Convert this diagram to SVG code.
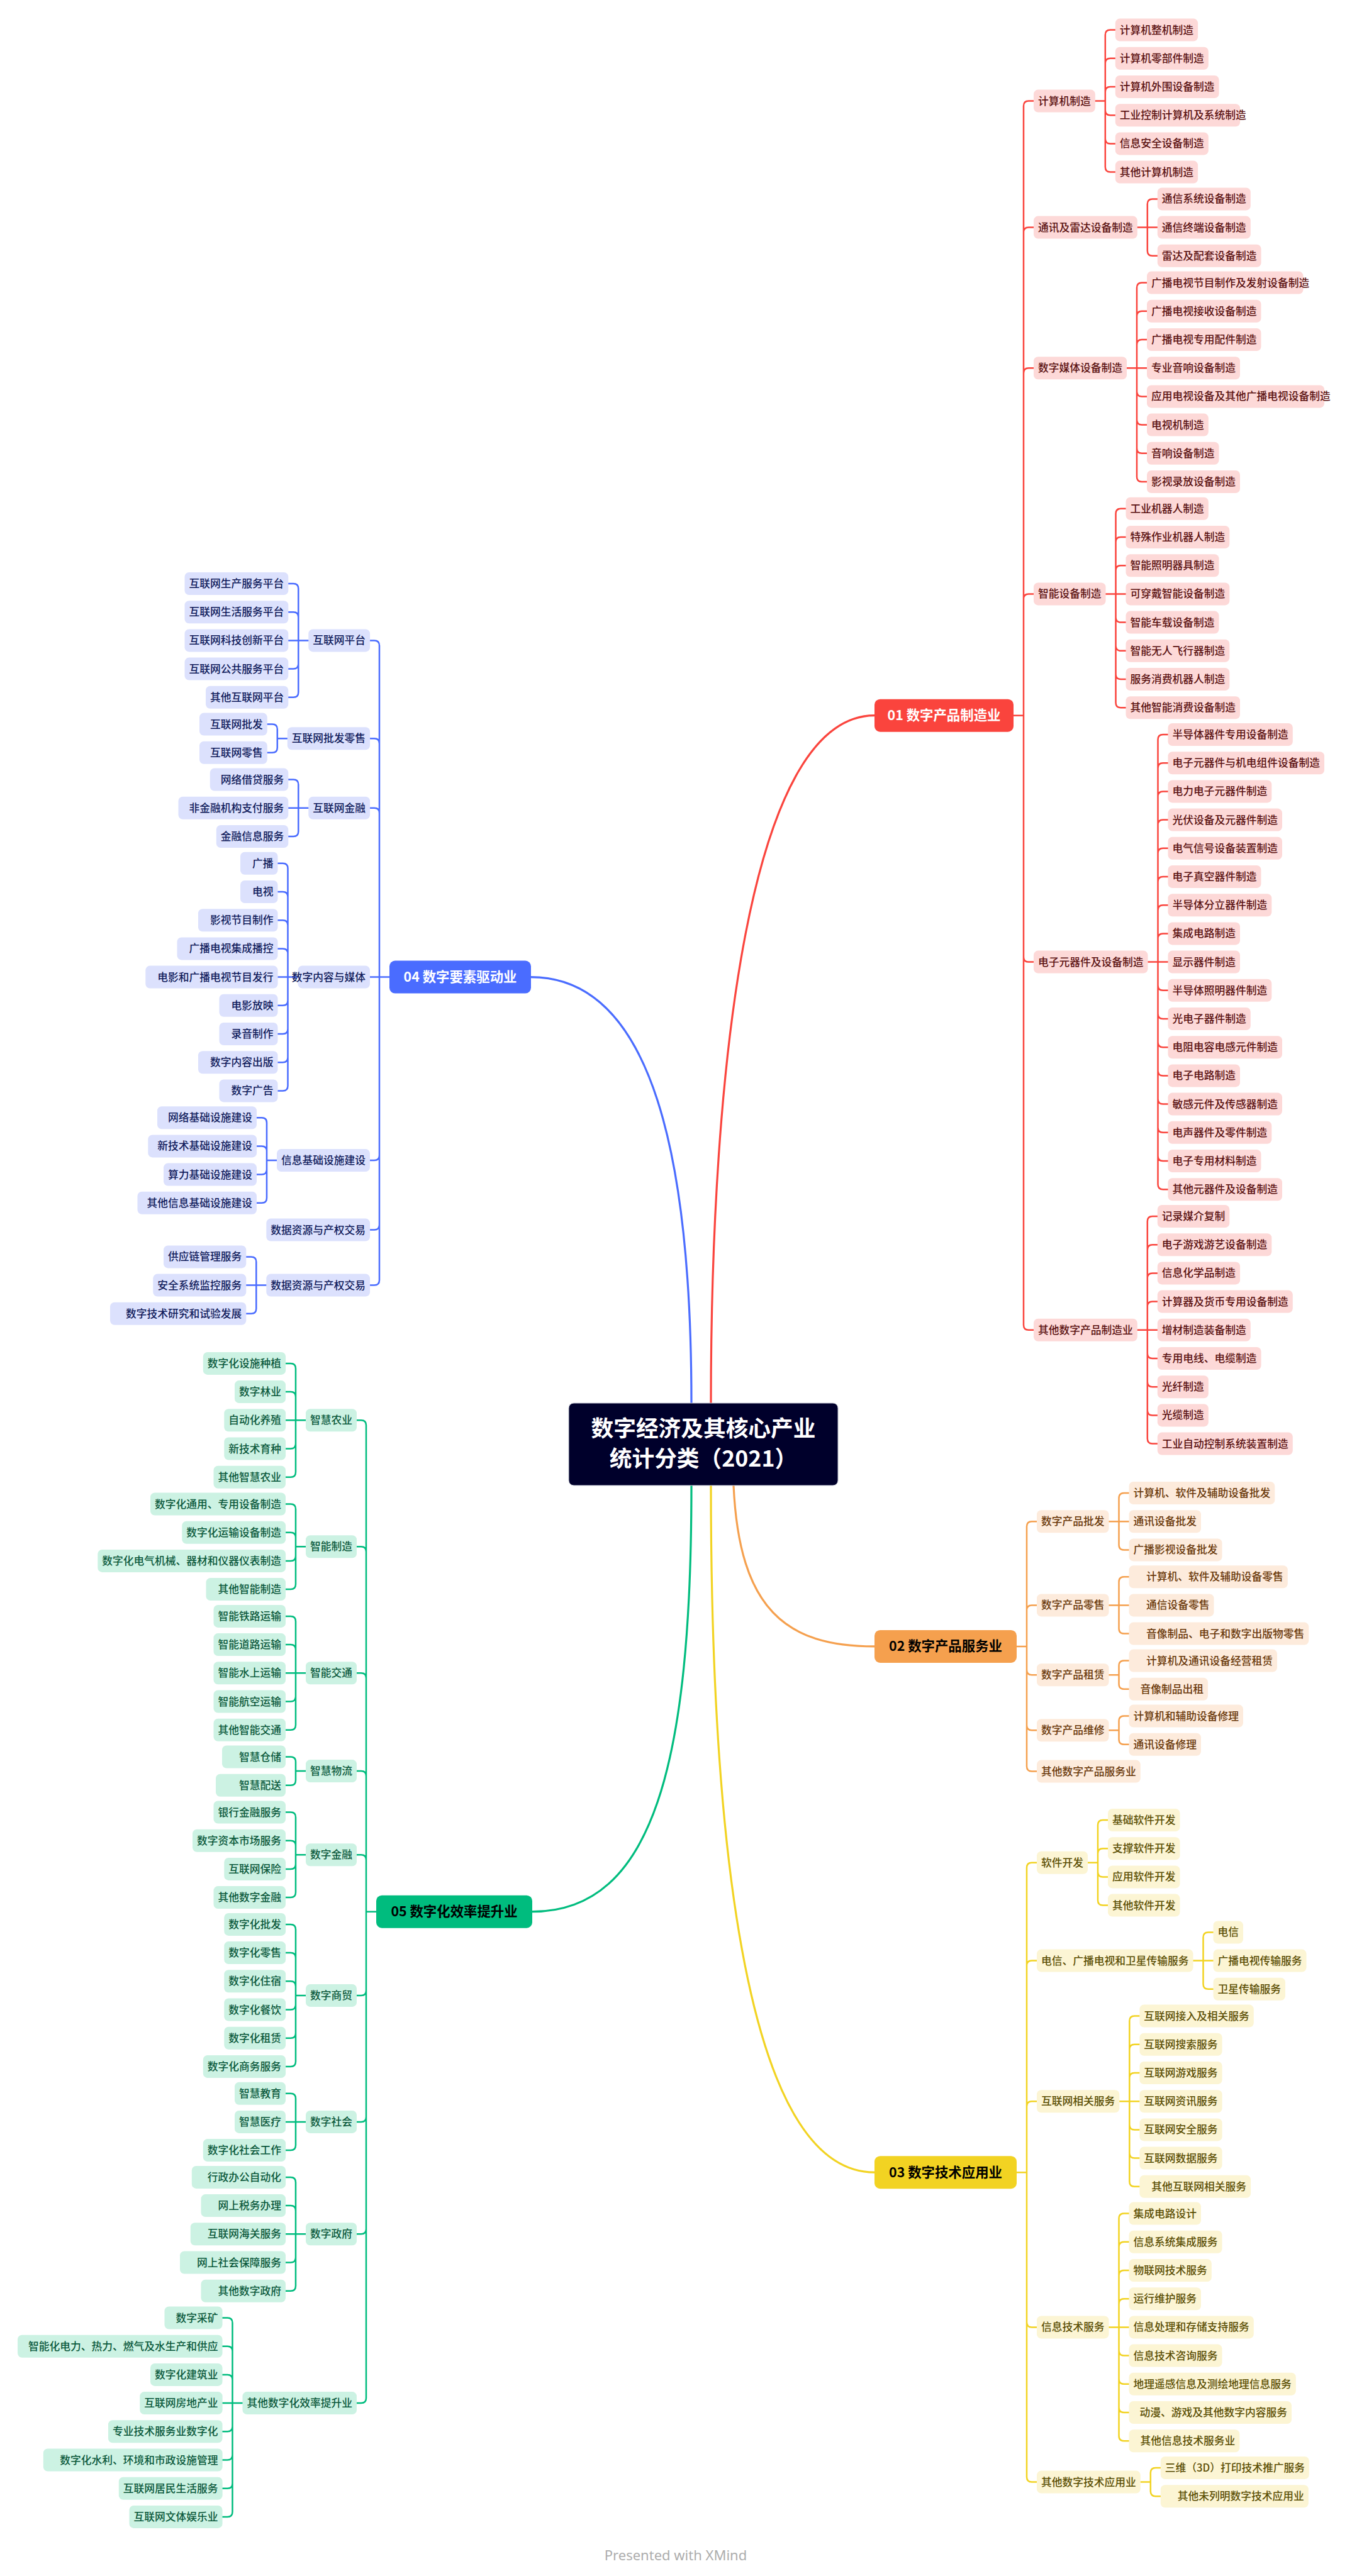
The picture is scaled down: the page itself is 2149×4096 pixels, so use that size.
<svg xmlns="http://www.w3.org/2000/svg" width="2149" height="4096" viewBox="0 0 2149 4096">
<style>
text{font-family:"Noto Sans CJK SC","Noto Sans",sans-serif;font-size:16.75px;font-weight:500}
.e{text-anchor:end}
.m text{font-size:21.4px;font-weight:700;text-anchor:middle}
.c1 rect{fill:#FDD9D8}.c1 text{fill:#5B1212}
.c2 rect{fill:#FDEBDC}.c2 text{fill:#6B3A0C}
.c3 rect{fill:#FCF5D4}.c3 text{fill:#5C5006}
.c4 rect{fill:#DCE1FD}.c4 text{fill:#111C5C}
.c5 rect{fill:#CCF2E3}.c5 text{fill:#0C5A3D}
.l{fill:none;stroke-width:2.5;stroke-linecap:round}
.k{fill:none;stroke-width:3.2;stroke-linecap:round}
.s1{stroke:#FA443D}.s2{stroke:#F5A04E}.s3{stroke:#F2D322}.s4{stroke:#4A6CFF}.s5{stroke:#00BC7E}
</style>
<rect width="2149" height="4096" fill="#ffffff"/>
<g id="connectors">
<path class="k s1" d="M1130,2231C1130,1700 1190,1137.7 1390,1137.7"/>
<path class="k s4" d="M1099,2231C1099,1850 1040,1553.6 844,1553.6"/>
<path class="k s2" d="M1166,2362C1175,2560 1250,2617.9 1390,2617.9"/>
<path class="k s3" d="M1130,2362C1130,3000 1200,3454.2 1390,3454.2"/>
<path class="k s5" d="M1099,2362C1099,2800 1040,3039.7 846,3039.7"/>
<path class="l s1" d="M1611,1137.7H1627M1627,1137.7V168.6Q1627,160.6 1635,160.6H1643M1627,1137.7V369.6Q1627,361.6 1635,361.6H1643M1627,1137.7V593.2Q1627,585.2 1635,585.2H1643M1627,1137.7V952.4Q1627,944.4 1635,944.4H1643M1627,1137.7V1521.6Q1627,1529.6 1635,1529.6H1643M1627,1137.7V2106.8Q1627,2114.8 1635,2114.8H1643"/>
<path class="l s1" d="M1740.8,160.6H1756.8M1756.8,160.6V55.6Q1756.8,47.6 1764.8,47.6H1772.8M1756.8,160.6V100.8Q1756.8,92.8 1764.8,92.8H1772.8M1756.8,160.6V146Q1756.8,138 1764.8,138H1772.8M1756.8,160.6V175.2Q1756.8,183.2 1764.8,183.2H1772.8M1756.8,160.6V220.4Q1756.8,228.4 1764.8,228.4H1772.8M1756.8,160.6V265.6Q1756.8,273.6 1764.8,273.6H1772.8"/>
<path class="l s1" d="M1807.8,361.6H1839.8M1823.8,361.6V324.4Q1823.8,316.4 1831.8,316.4H1839.8M1823.8,361.6V398.8Q1823.8,406.8 1831.8,406.8H1839.8"/>
<path class="l s1" d="M1791,585.2H1823M1807,585.2V457.6Q1807,449.6 1815,449.6H1823M1807,585.2V502.8Q1807,494.8 1815,494.8H1823M1807,585.2V548Q1807,540 1815,540H1823M1807,585.2V622.4Q1807,630.4 1815,630.4H1823M1807,585.2V667.6Q1807,675.6 1815,675.6H1823M1807,585.2V712.8Q1807,720.8 1815,720.8H1823M1807,585.2V758Q1807,766 1815,766H1823"/>
<path class="l s1" d="M1757.5,944.4H1789.5M1773.5,944.4V816.8Q1773.5,808.8 1781.5,808.8H1789.5M1773.5,944.4V862Q1773.5,854 1781.5,854H1789.5M1773.5,944.4V907.2Q1773.5,899.2 1781.5,899.2H1789.5M1773.5,944.4V981.6Q1773.5,989.6 1781.5,989.6H1789.5M1773.5,944.4V1026.8Q1773.5,1034.8 1781.5,1034.8H1789.5M1773.5,944.4V1072Q1773.5,1080 1781.5,1080H1789.5M1773.5,944.4V1117.2Q1773.5,1125.2 1781.5,1125.2H1789.5"/>
<path class="l s1" d="M1824.5,1529.6H1856.5M1840.5,1529.6V1176Q1840.5,1168 1848.5,1168H1856.5M1840.5,1529.6V1221.2Q1840.5,1213.2 1848.5,1213.2H1856.5M1840.5,1529.6V1266.4Q1840.5,1258.4 1848.5,1258.4H1856.5M1840.5,1529.6V1311.6Q1840.5,1303.6 1848.5,1303.6H1856.5M1840.5,1529.6V1356.8Q1840.5,1348.8 1848.5,1348.8H1856.5M1840.5,1529.6V1402Q1840.5,1394 1848.5,1394H1856.5M1840.5,1529.6V1447.2Q1840.5,1439.2 1848.5,1439.2H1856.5M1840.5,1529.6V1492.4Q1840.5,1484.4 1848.5,1484.4H1856.5M1840.5,1529.6V1566.8Q1840.5,1574.8 1848.5,1574.8H1856.5M1840.5,1529.6V1612Q1840.5,1620 1848.5,1620H1856.5M1840.5,1529.6V1657.2Q1840.5,1665.2 1848.5,1665.2H1856.5M1840.5,1529.6V1702.4Q1840.5,1710.4 1848.5,1710.4H1856.5M1840.5,1529.6V1747.6Q1840.5,1755.6 1848.5,1755.6H1856.5M1840.5,1529.6V1792.8Q1840.5,1800.8 1848.5,1800.8H1856.5M1840.5,1529.6V1838Q1840.5,1846 1848.5,1846H1856.5M1840.5,1529.6V1883.2Q1840.5,1891.2 1848.5,1891.2H1856.5"/>
<path class="l s1" d="M1807.8,2114.8H1839.8M1823.8,2114.8V1942Q1823.8,1934 1831.8,1934H1839.8M1823.8,2114.8V1987.2Q1823.8,1979.2 1831.8,1979.2H1839.8M1823.8,2114.8V2032.4Q1823.8,2024.4 1831.8,2024.4H1839.8M1823.8,2114.8V2077.6Q1823.8,2069.6 1831.8,2069.6H1839.8M1823.8,2114.8V2152Q1823.8,2160 1831.8,2160H1839.8M1823.8,2114.8V2197.2Q1823.8,2205.2 1831.8,2205.2H1839.8M1823.8,2114.8V2242.4Q1823.8,2250.4 1831.8,2250.4H1839.8M1823.8,2114.8V2287.6Q1823.8,2295.6 1831.8,2295.6H1839.8"/>
<path class="l s2" d="M1616,2617.9H1632M1632,2617.9V2427.2Q1632,2419.2 1640,2419.2H1648M1632,2617.9V2560.4Q1632,2552.4 1640,2552.4H1648M1632,2617.9V2655.2Q1632,2663.2 1640,2663.2H1648M1632,2617.9V2743.2Q1632,2751.2 1640,2751.2H1648M1632,2617.9V2808.6Q1632,2816.6 1640,2816.6H1648"/>
<path class="l s2" d="M1762.5,2419.2H1794.5M1778.5,2419.2V2382Q1778.5,2374 1786.5,2374H1794.5M1778.5,2419.2V2456.4Q1778.5,2464.4 1786.5,2464.4H1794.5"/>
<path class="l s2" d="M1762.5,2552.4H1794.5M1778.5,2552.4V2515.2Q1778.5,2507.2 1786.5,2507.2H1794.5M1778.5,2552.4V2589.6Q1778.5,2597.6 1786.5,2597.6H1794.5"/>
<path class="l s2" d="M1762.5,2663.2H1778.5M1778.5,2663.2V2648.6Q1778.5,2640.6 1786.5,2640.6H1794.5M1778.5,2663.2V2677.8Q1778.5,2685.8 1786.5,2685.8H1794.5"/>
<path class="l s2" d="M1762.5,2751.2H1778.5M1778.5,2751.2V2736.6Q1778.5,2728.6 1786.5,2728.6H1794.5M1778.5,2751.2V2765.8Q1778.5,2773.8 1786.5,2773.8H1794.5"/>
<path class="l s3" d="M1616,3454.2H1632M1632,3454.2V2969.8Q1632,2961.8 1640,2961.8H1648M1632,3454.2V3125.6Q1632,3117.6 1640,3117.6H1648M1632,3454.2V3349.2Q1632,3341.2 1640,3341.2H1648M1632,3454.2V3692.4Q1632,3700.4 1640,3700.4H1648M1632,3454.2V3938.6Q1632,3946.6 1640,3946.6H1648"/>
<path class="l s3" d="M1729,2961.8H1745M1745,2961.8V2902Q1745,2894 1753,2894H1761M1745,2961.8V2947.2Q1745,2939.2 1753,2939.2H1761M1745,2961.8V2976.4Q1745,2984.4 1753,2984.4H1761M1745,2961.8V3021.6Q1745,3029.6 1753,3029.6H1761"/>
<path class="l s3" d="M1896.5,3117.6H1928.5M1912.5,3117.6V3080.4Q1912.5,3072.4 1920.5,3072.4H1928.5M1912.5,3117.6V3154.8Q1912.5,3162.8 1920.5,3162.8H1928.5"/>
<path class="l s3" d="M1779.3,3341.2H1811.3M1795.3,3341.2V3213.6Q1795.3,3205.6 1803.3,3205.6H1811.3M1795.3,3341.2V3258.8Q1795.3,3250.8 1803.3,3250.8H1811.3M1795.3,3341.2V3304Q1795.3,3296 1803.3,3296H1811.3M1795.3,3341.2V3378.4Q1795.3,3386.4 1803.3,3386.4H1811.3M1795.3,3341.2V3423.6Q1795.3,3431.6 1803.3,3431.6H1811.3M1795.3,3341.2V3468.8Q1795.3,3476.8 1803.3,3476.8H1811.3"/>
<path class="l s3" d="M1762.5,3700.4H1794.5M1778.5,3700.4V3527.6Q1778.5,3519.6 1786.5,3519.6H1794.5M1778.5,3700.4V3572.8Q1778.5,3564.8 1786.5,3564.8H1794.5M1778.5,3700.4V3618Q1778.5,3610 1786.5,3610H1794.5M1778.5,3700.4V3663.2Q1778.5,3655.2 1786.5,3655.2H1794.5M1778.5,3700.4V3737.6Q1778.5,3745.6 1786.5,3745.6H1794.5M1778.5,3700.4V3782.8Q1778.5,3790.8 1786.5,3790.8H1794.5M1778.5,3700.4V3828Q1778.5,3836 1786.5,3836H1794.5M1778.5,3700.4V3873.2Q1778.5,3881.2 1786.5,3881.2H1794.5"/>
<path class="l s3" d="M1812.8,3946.6H1828.8M1828.8,3946.6V3932Q1828.8,3924 1836.8,3924H1844.8M1828.8,3946.6V3961.2Q1828.8,3969.2 1836.8,3969.2H1844.8"/>
<path class="l s4" d="M619,1553.6H588M603,1553.6V1026.4Q603,1018.4 595,1018.4H588M603,1553.6V1182.2Q603,1174.2 595,1174.2H588M603,1553.6V1292.8Q603,1284.8 595,1284.8H588M603,1553.6V1837Q603,1845 595,1845H588M603,1553.6V1947.6Q603,1955.6 595,1955.6H588M603,1553.6V2035.6Q603,2043.6 595,2043.6H588"/>
<path class="l s4" d="M490.3,1018.4H458.3M474.3,1018.4V936Q474.3,928 466.3,928H458.3M474.3,1018.4V981.2Q474.3,973.2 466.3,973.2H458.3M474.3,1018.4V1055.6Q474.3,1063.6 466.3,1063.6H458.3M474.3,1018.4V1100.8Q474.3,1108.8 466.3,1108.8H458.3"/>
<path class="l s4" d="M456.8,1174.2H440.8M440.8,1174.2V1159.6Q440.8,1151.6 432.8,1151.6H424.8M440.8,1174.2V1188.8Q440.8,1196.8 432.8,1196.8H424.8"/>
<path class="l s4" d="M490.3,1284.8H458.3M474.3,1284.8V1247.6Q474.3,1239.6 466.3,1239.6H458.3M474.3,1284.8V1322Q474.3,1330 466.3,1330H458.3"/>
<path class="l s4" d="M473.5,1553.6H441.5M457.5,1553.6V1380.8Q457.5,1372.8 449.5,1372.8H441.5M457.5,1553.6V1426Q457.5,1418 449.5,1418H441.5M457.5,1553.6V1471.2Q457.5,1463.2 449.5,1463.2H441.5M457.5,1553.6V1516.4Q457.5,1508.4 449.5,1508.4H441.5M457.5,1553.6V1590.8Q457.5,1598.8 449.5,1598.8H441.5M457.5,1553.6V1636Q457.5,1644 449.5,1644H441.5M457.5,1553.6V1681.2Q457.5,1689.2 449.5,1689.2H441.5M457.5,1553.6V1726.4Q457.5,1734.4 449.5,1734.4H441.5"/>
<path class="l s4" d="M440,1845H424M424,1845V1785.2Q424,1777.2 416,1777.2H408M424,1845V1830.4Q424,1822.4 416,1822.4H408M424,1845V1859.6Q424,1867.6 416,1867.6H408M424,1845V1904.8Q424,1912.8 416,1912.8H408"/>
<path class="l s4" d="M423.3,2043.6H391.3M407.3,2043.6V2006.4Q407.3,1998.4 399.3,1998.4H391.3M407.3,2043.6V2080.8Q407.3,2088.8 399.3,2088.8H391.3"/>
<path class="l s5" d="M598,3039.7H582M582,3039.7V2266.3Q582,2258.3 574,2258.3H567M582,3039.7V2467.3Q582,2459.3 574,2459.3H567M582,3039.7V2668.3Q582,2660.3 574,2660.3H567M582,3039.7V2824.1Q582,2816.1 574,2816.1H567M582,3039.7V2957.3Q582,2949.3 574,2949.3H567M582,3039.7V3164.9Q582,3172.9 574,3172.9H567M582,3039.7V3365.9Q582,3373.9 574,3373.9H567M582,3039.7V3544.3Q582,3552.3 574,3552.3H567M582,3039.7V3813.1Q582,3821.1 574,3821.1H567"/>
<path class="l s5" d="M486,2258.3H454M470,2258.3V2175.9Q470,2167.9 462,2167.9H454M470,2258.3V2221.1Q470,2213.1 462,2213.1H454M470,2258.3V2295.5Q470,2303.5 462,2303.5H454M470,2258.3V2340.7Q470,2348.7 462,2348.7H454"/>
<path class="l s5" d="M486,2459.3H470M470,2459.3V2399.5Q470,2391.5 462,2391.5H454M470,2459.3V2444.7Q470,2436.7 462,2436.7H454M470,2459.3V2473.9Q470,2481.9 462,2481.9H454M470,2459.3V2519.1Q470,2527.1 462,2527.1H454"/>
<path class="l s5" d="M486,2660.3H454M470,2660.3V2577.9Q470,2569.9 462,2569.9H454M470,2660.3V2623.1Q470,2615.1 462,2615.1H454M470,2660.3V2697.5Q470,2705.5 462,2705.5H454M470,2660.3V2742.7Q470,2750.7 462,2750.7H454"/>
<path class="l s5" d="M486,2816.1H470M470,2816.1V2801.5Q470,2793.5 462,2793.5H454M470,2816.1V2830.7Q470,2838.7 462,2838.7H454"/>
<path class="l s5" d="M486,2949.3H470M470,2949.3V2889.5Q470,2881.5 462,2881.5H454M470,2949.3V2934.7Q470,2926.7 462,2926.7H454M470,2949.3V2963.9Q470,2971.9 462,2971.9H454M470,2949.3V3009.1Q470,3017.1 462,3017.1H454"/>
<path class="l s5" d="M486,3172.9H470M470,3172.9V3067.9Q470,3059.9 462,3059.9H454M470,3172.9V3113.1Q470,3105.1 462,3105.1H454M470,3172.9V3158.3Q470,3150.3 462,3150.3H454M470,3172.9V3187.5Q470,3195.5 462,3195.5H454M470,3172.9V3232.7Q470,3240.7 462,3240.7H454M470,3172.9V3277.9Q470,3285.9 462,3285.9H454"/>
<path class="l s5" d="M486,3373.9H454M470,3373.9V3336.7Q470,3328.7 462,3328.7H454M470,3373.9V3411.1Q470,3419.1 462,3419.1H454"/>
<path class="l s5" d="M486,3552.3H454M470,3552.3V3469.9Q470,3461.9 462,3461.9H454M470,3552.3V3515.1Q470,3507.1 462,3507.1H454M470,3552.3V3589.5Q470,3597.5 462,3597.5H454M470,3552.3V3634.7Q470,3642.7 462,3642.7H454"/>
<path class="l s5" d="M385.5,3821.1H353.5M369.5,3821.1V3693.5Q369.5,3685.5 361.5,3685.5H353.5M369.5,3821.1V3738.7Q369.5,3730.7 361.5,3730.7H353.5M369.5,3821.1V3783.9Q369.5,3775.9 361.5,3775.9H353.5M369.5,3821.1V3858.3Q369.5,3866.3 361.5,3866.3H353.5M369.5,3821.1V3903.5Q369.5,3911.5 361.5,3911.5H353.5M369.5,3821.1V3948.7Q369.5,3956.7 361.5,3956.7H353.5M369.5,3821.1V3993.9Q369.5,4001.9 361.5,4001.9H353.5"/>
</g>
<g id="center">
<rect x="904" y="2231" width="428" height="131" rx="8" fill="#00002B" stroke="#C9CCD8" stroke-width="1"/>
<text x="1118" y="2284" text-anchor="middle" style="font-size:35.7px;font-weight:700;fill:#ffffff">数字经济及其核心产业</text>
<text x="1118" y="2332" text-anchor="middle" style="font-size:35.7px;font-weight:700;fill:#ffffff">统计分类（2021）</text>
</g>
<g id="main-branches" class="m">
<g id="b01"><rect x="1390" y="1111.7" width="221" height="52" rx="9" fill="#FA443D"/><text x="1500.5" y="1145.2" fill="#ffffff">01 数字产品制造业</text></g>
<g id="b02"><rect x="1390" y="2591.9" width="226" height="52" rx="9" fill="#F5A04E"/><text x="1503" y="2625.4" fill="#000000">02 数字产品服务业</text></g>
<g id="b03"><rect x="1390" y="3428.2" width="226" height="52" rx="9" fill="#F2D322"/><text x="1503" y="3461.7" fill="#000000">03 数字技术应用业</text></g>
<g id="b04"><rect x="619" y="1527.6" width="225" height="52" rx="9" fill="#4A6CFF"/><text x="731.5" y="1561.1" fill="#ffffff">04 数字要素驱动业</text></g>
<g id="b05"><rect x="598" y="3013.7" width="248" height="52" rx="9" fill="#00BC7E"/><text x="722" y="3047.2" fill="#000000">05 数字化效率提升业</text></g>
</g>
<g id="branch01" class="c1">
<g id="n01a"><rect x="1643" y="142.6" width="97.8" height="36" rx="7"/><text x="1650" y="166.6">计算机制造</text></g>
<g id="n01a1"><rect x="1772.8" y="29.6" width="131.3" height="36" rx="7"/><text x="1779.8" y="53.6">计算机整机制造</text></g>
<g id="n01a2"><rect x="1772.8" y="74.8" width="148" height="36" rx="7"/><text x="1779.8" y="98.8">计算机零部件制造</text></g>
<g id="n01a3"><rect x="1772.8" y="120" width="164.8" height="36" rx="7"/><text x="1779.8" y="144">计算机外围设备制造</text></g>
<g id="n01a4"><rect x="1772.8" y="165.2" width="198.3" height="36" rx="7"/><text x="1779.8" y="189.2">工业控制计算机及系统制造</text></g>
<g id="n01a5"><rect x="1772.8" y="210.4" width="148" height="36" rx="7"/><text x="1779.8" y="234.4">信息安全设备制造</text></g>
<g id="n01a6"><rect x="1772.8" y="255.6" width="131.3" height="36" rx="7"/><text x="1779.8" y="279.6">其他计算机制造</text></g>
<g id="n01b"><rect x="1643" y="343.6" width="164.8" height="36" rx="7"/><text x="1650" y="367.6">通讯及雷达设备制造</text></g>
<g id="n01b1"><rect x="1839.8" y="298.4" width="148" height="36" rx="7"/><text x="1846.8" y="322.4">通信系统设备制造</text></g>
<g id="n01b2"><rect x="1839.8" y="343.6" width="148" height="36" rx="7"/><text x="1846.8" y="367.6">通信终端设备制造</text></g>
<g id="n01b3"><rect x="1839.8" y="388.8" width="164.8" height="36" rx="7"/><text x="1846.8" y="412.8">雷达及配套设备制造</text></g>
<g id="n01c"><rect x="1643" y="567.2" width="148" height="36" rx="7"/><text x="1650" y="591.2">数字媒体设备制造</text></g>
<g id="n01c1"><rect x="1823" y="431.6" width="248.5" height="36" rx="7"/><text x="1830" y="455.6">广播电视节目制作及发射设备制造</text></g>
<g id="n01c2"><rect x="1823" y="476.8" width="181.5" height="36" rx="7"/><text x="1830" y="500.8">广播电视接收设备制造</text></g>
<g id="n01c3"><rect x="1823" y="522" width="181.5" height="36" rx="7"/><text x="1830" y="546">广播电视专用配件制造</text></g>
<g id="n01c4"><rect x="1823" y="567.2" width="148" height="36" rx="7"/><text x="1830" y="591.2">专业音响设备制造</text></g>
<g id="n01c5"><rect x="1823" y="612.4" width="282" height="36" rx="7"/><text x="1830" y="636.4">应用电视设备及其他广播电视设备制造</text></g>
<g id="n01c6"><rect x="1823" y="657.6" width="97.8" height="36" rx="7"/><text x="1830" y="681.6">电视机制造</text></g>
<g id="n01c7"><rect x="1823" y="702.8" width="114.5" height="36" rx="7"/><text x="1830" y="726.8">音响设备制造</text></g>
<g id="n01c8"><rect x="1823" y="748" width="148" height="36" rx="7"/><text x="1830" y="772">影视录放设备制造</text></g>
<g id="n01d"><rect x="1643" y="926.4" width="114.5" height="36" rx="7"/><text x="1650" y="950.4">智能设备制造</text></g>
<g id="n01d1"><rect x="1789.5" y="790.8" width="131.3" height="36" rx="7"/><text x="1796.5" y="814.8">工业机器人制造</text></g>
<g id="n01d2"><rect x="1789.5" y="836" width="164.8" height="36" rx="7"/><text x="1796.5" y="860">特殊作业机器人制造</text></g>
<g id="n01d3"><rect x="1789.5" y="881.2" width="148" height="36" rx="7"/><text x="1796.5" y="905.2">智能照明器具制造</text></g>
<g id="n01d4"><rect x="1789.5" y="926.4" width="164.8" height="36" rx="7"/><text x="1796.5" y="950.4">可穿戴智能设备制造</text></g>
<g id="n01d5"><rect x="1789.5" y="971.6" width="148" height="36" rx="7"/><text x="1796.5" y="995.6">智能车载设备制造</text></g>
<g id="n01d6"><rect x="1789.5" y="1016.8" width="164.8" height="36" rx="7"/><text x="1796.5" y="1040.8">智能无人飞行器制造</text></g>
<g id="n01d7"><rect x="1789.5" y="1062" width="164.8" height="36" rx="7"/><text x="1796.5" y="1086">服务消费机器人制造</text></g>
<g id="n01d8"><rect x="1789.5" y="1107.2" width="181.5" height="36" rx="7"/><text x="1796.5" y="1131.2">其他智能消费设备制造</text></g>
<g id="n01e"><rect x="1643" y="1511.6" width="181.5" height="36" rx="7"/><text x="1650" y="1535.6">电子元器件及设备制造</text></g>
<g id="n01e1"><rect x="1856.5" y="1150" width="198.3" height="36" rx="7"/><text x="1863.5" y="1174">半导体器件专用设备制造</text></g>
<g id="n01e2"><rect x="1856.5" y="1195.2" width="248.5" height="36" rx="7"/><text x="1863.5" y="1219.2">电子元器件与机电组件设备制造</text></g>
<g id="n01e3"><rect x="1856.5" y="1240.4" width="164.8" height="36" rx="7"/><text x="1863.5" y="1264.4">电力电子元器件制造</text></g>
<g id="n01e4"><rect x="1856.5" y="1285.6" width="181.5" height="36" rx="7"/><text x="1863.5" y="1309.6">光伏设备及元器件制造</text></g>
<g id="n01e5"><rect x="1856.5" y="1330.8" width="181.5" height="36" rx="7"/><text x="1863.5" y="1354.8">电气信号设备装置制造</text></g>
<g id="n01e6"><rect x="1856.5" y="1376" width="148" height="36" rx="7"/><text x="1863.5" y="1400">电子真空器件制造</text></g>
<g id="n01e7"><rect x="1856.5" y="1421.2" width="164.8" height="36" rx="7"/><text x="1863.5" y="1445.2">半导体分立器件制造</text></g>
<g id="n01e8"><rect x="1856.5" y="1466.4" width="114.5" height="36" rx="7"/><text x="1863.5" y="1490.4">集成电路制造</text></g>
<g id="n01e9"><rect x="1856.5" y="1511.6" width="114.5" height="36" rx="7"/><text x="1863.5" y="1535.6">显示器件制造</text></g>
<g id="n01e10"><rect x="1856.5" y="1556.8" width="164.8" height="36" rx="7"/><text x="1863.5" y="1580.8">半导体照明器件制造</text></g>
<g id="n01e11"><rect x="1856.5" y="1602" width="131.3" height="36" rx="7"/><text x="1863.5" y="1626">光电子器件制造</text></g>
<g id="n01e12"><rect x="1856.5" y="1647.2" width="181.5" height="36" rx="7"/><text x="1863.5" y="1671.2">电阻电容电感元件制造</text></g>
<g id="n01e13"><rect x="1856.5" y="1692.4" width="114.5" height="36" rx="7"/><text x="1863.5" y="1716.4">电子电路制造</text></g>
<g id="n01e14"><rect x="1856.5" y="1737.6" width="181.5" height="36" rx="7"/><text x="1863.5" y="1761.6">敏感元件及传感器制造</text></g>
<g id="n01e15"><rect x="1856.5" y="1782.8" width="164.8" height="36" rx="7"/><text x="1863.5" y="1806.8">电声器件及零件制造</text></g>
<g id="n01e16"><rect x="1856.5" y="1828" width="148" height="36" rx="7"/><text x="1863.5" y="1852">电子专用材料制造</text></g>
<g id="n01e17"><rect x="1856.5" y="1873.2" width="181.5" height="36" rx="7"/><text x="1863.5" y="1897.2">其他元器件及设备制造</text></g>
<g id="n01f"><rect x="1643" y="2096.8" width="164.8" height="36" rx="7"/><text x="1650" y="2120.8">其他数字产品制造业</text></g>
<g id="n01f1"><rect x="1839.8" y="1916" width="114.5" height="36" rx="7"/><text x="1846.8" y="1940">记录媒介复制</text></g>
<g id="n01f2"><rect x="1839.8" y="1961.2" width="181.5" height="36" rx="7"/><text x="1846.8" y="1985.2">电子游戏游艺设备制造</text></g>
<g id="n01f3"><rect x="1839.8" y="2006.4" width="131.3" height="36" rx="7"/><text x="1846.8" y="2030.4">信息化学品制造</text></g>
<g id="n01f4"><rect x="1839.8" y="2051.6" width="215" height="36" rx="7"/><text x="1846.8" y="2075.6">计算器及货币专用设备制造</text></g>
<g id="n01f5"><rect x="1839.8" y="2096.8" width="148" height="36" rx="7"/><text x="1846.8" y="2120.8">增材制造装备制造</text></g>
<g id="n01f6"><rect x="1839.8" y="2142" width="164.8" height="36" rx="7"/><text x="1846.8" y="2166">专用电线、电缆制造</text></g>
<g id="n01f7"><rect x="1839.8" y="2187.2" width="81" height="36" rx="7"/><text x="1846.8" y="2211.2">光纤制造</text></g>
<g id="n01f8"><rect x="1839.8" y="2232.4" width="81" height="36" rx="7"/><text x="1846.8" y="2256.4">光缆制造</text></g>
<g id="n01f9"><rect x="1839.8" y="2277.6" width="215" height="36" rx="7"/><text x="1846.8" y="2301.6">工业自动控制系统装置制造</text></g>
</g>
<g id="branch02" class="c2">
<g id="n02a"><rect x="1648" y="2401.2" width="114.5" height="36" rx="7"/><text x="1655" y="2425.2">数字产品批发</text></g>
<g id="n02a1"><rect x="1794.5" y="2356" width="231.8" height="36" rx="7"/><text x="1801.5" y="2380">计算机、软件及辅助设备批发</text></g>
<g id="n02a2"><rect x="1794.5" y="2401.2" width="114.5" height="36" rx="7"/><text x="1801.5" y="2425.2">通讯设备批发</text></g>
<g id="n02a3"><rect x="1794.5" y="2446.4" width="148" height="36" rx="7"/><text x="1801.5" y="2470.4">广播影视设备批发</text></g>
<g id="n02b"><rect x="1648" y="2534.4" width="114.5" height="36" rx="7"/><text x="1655" y="2558.4">数字产品零售</text></g>
<g id="n02b1"><rect x="1794.5" y="2489.2" width="252.3" height="36" rx="7"/><text x="1822" y="2513.2">计算机、软件及辅助设备零售</text></g>
<g id="n02b2"><rect x="1794.5" y="2534.4" width="135" height="36" rx="7"/><text x="1822" y="2558.4">通信设备零售</text></g>
<g id="n02b3"><rect x="1794.5" y="2579.6" width="285.8" height="36" rx="7"/><text x="1822" y="2603.6">音像制品、电子和数字出版物零售</text></g>
<g id="n02c"><rect x="1648" y="2645.2" width="114.5" height="36" rx="7"/><text x="1655" y="2669.2">数字产品租赁</text></g>
<g id="n02c1"><rect x="1794.5" y="2622.6" width="235.5" height="36" rx="7"/><text x="1822" y="2646.6">计算机及通讯设备经营租赁</text></g>
<g id="n02c2"><rect x="1794.5" y="2667.8" width="125.5" height="36" rx="7"/><text x="1812.5" y="2691.8">音像制品出租</text></g>
<g id="n02d"><rect x="1648" y="2733.2" width="114.5" height="36" rx="7"/><text x="1655" y="2757.2">数字产品维修</text></g>
<g id="n02d1"><rect x="1794.5" y="2710.6" width="181.5" height="36" rx="7"/><text x="1801.5" y="2734.6">计算机和辅助设备修理</text></g>
<g id="n02d2"><rect x="1794.5" y="2755.8" width="114.5" height="36" rx="7"/><text x="1801.5" y="2779.8">通讯设备修理</text></g>
<g id="n02e"><rect x="1648" y="2798.6" width="164.8" height="36" rx="7"/><text x="1655" y="2822.6">其他数字产品服务业</text></g>
</g>
<g id="branch03" class="c3">
<g id="n03a"><rect x="1648" y="2943.8" width="81" height="36" rx="7"/><text x="1655" y="2967.8">软件开发</text></g>
<g id="n03a1"><rect x="1761" y="2876" width="114.5" height="36" rx="7"/><text x="1768" y="2900">基础软件开发</text></g>
<g id="n03a2"><rect x="1761" y="2921.2" width="114.5" height="36" rx="7"/><text x="1768" y="2945.2">支撑软件开发</text></g>
<g id="n03a3"><rect x="1761" y="2966.4" width="114.5" height="36" rx="7"/><text x="1768" y="2990.4">应用软件开发</text></g>
<g id="n03a4"><rect x="1761" y="3011.6" width="114.5" height="36" rx="7"/><text x="1768" y="3035.6">其他软件开发</text></g>
<g id="n03b"><rect x="1648" y="3099.6" width="248.5" height="36" rx="7"/><text x="1655" y="3123.6">电信、广播电视和卫星传输服务</text></g>
<g id="n03b1"><rect x="1928.5" y="3054.4" width="47.5" height="36" rx="7"/><text x="1935.5" y="3078.4">电信</text></g>
<g id="n03b2"><rect x="1928.5" y="3099.6" width="148" height="36" rx="7"/><text x="1935.5" y="3123.6">广播电视传输服务</text></g>
<g id="n03b3"><rect x="1928.5" y="3144.8" width="114.5" height="36" rx="7"/><text x="1935.5" y="3168.8">卫星传输服务</text></g>
<g id="n03c"><rect x="1648" y="3323.2" width="131.3" height="36" rx="7"/><text x="1655" y="3347.2">互联网相关服务</text></g>
<g id="n03c1"><rect x="1811.3" y="3187.6" width="181.5" height="36" rx="7"/><text x="1818.3" y="3211.6">互联网接入及相关服务</text></g>
<g id="n03c2"><rect x="1811.3" y="3232.8" width="131.3" height="36" rx="7"/><text x="1818.3" y="3256.8">互联网搜索服务</text></g>
<g id="n03c3"><rect x="1811.3" y="3278" width="131.3" height="36" rx="7"/><text x="1818.3" y="3302">互联网游戏服务</text></g>
<g id="n03c4"><rect x="1811.3" y="3323.2" width="131.3" height="36" rx="7"/><text x="1818.3" y="3347.2">互联网资讯服务</text></g>
<g id="n03c5"><rect x="1811.3" y="3368.4" width="131.3" height="36" rx="7"/><text x="1818.3" y="3392.4">互联网安全服务</text></g>
<g id="n03c6"><rect x="1811.3" y="3413.6" width="131.3" height="36" rx="7"/><text x="1818.3" y="3437.6">互联网数据服务</text></g>
<g id="n03c7"><rect x="1811.3" y="3458.8" width="176.8" height="36" rx="7"/><text x="1830.3" y="3482.8">其他互联网相关服务</text></g>
<g id="n03d"><rect x="1648" y="3682.4" width="114.5" height="36" rx="7"/><text x="1655" y="3706.4">信息技术服务</text></g>
<g id="n03d1"><rect x="1794.5" y="3501.6" width="114.5" height="36" rx="7"/><text x="1801.5" y="3525.6">集成电路设计</text></g>
<g id="n03d2"><rect x="1794.5" y="3546.8" width="148" height="36" rx="7"/><text x="1801.5" y="3570.8">信息系统集成服务</text></g>
<g id="n03d3"><rect x="1794.5" y="3592" width="131.3" height="36" rx="7"/><text x="1801.5" y="3616">物联网技术服务</text></g>
<g id="n03d4"><rect x="1794.5" y="3637.2" width="114.5" height="36" rx="7"/><text x="1801.5" y="3661.2">运行维护服务</text></g>
<g id="n03d5"><rect x="1794.5" y="3682.4" width="198.3" height="36" rx="7"/><text x="1801.5" y="3706.4">信息处理和存储支持服务</text></g>
<g id="n03d6"><rect x="1794.5" y="3727.6" width="148" height="36" rx="7"/><text x="1801.5" y="3751.6">信息技术咨询服务</text></g>
<g id="n03d7"><rect x="1794.5" y="3772.8" width="265.3" height="36" rx="7"/><text x="1801.5" y="3796.8">地理遥感信息及测绘地理信息服务</text></g>
<g id="n03d8"><rect x="1794.5" y="3818" width="258.5" height="36" rx="7"/><text x="1811.5" y="3842">动漫、游戏及其他数字内容服务</text></g>
<g id="n03d9"><rect x="1794.5" y="3863.2" width="175.8" height="36" rx="7"/><text x="1812.5" y="3887.2">其他信息技术服务业</text></g>
<g id="n03e"><rect x="1648" y="3928.6" width="164.8" height="36" rx="7"/><text x="1655" y="3952.6">其他数字技术应用业</text></g>
<g id="n03e1"><rect x="1844.8" y="3906" width="236" height="36" rx="7"/><text x="1851.8" y="3930">三维（3D）打印技术推广服务</text></g>
<g id="n03e2"><rect x="1844.8" y="3951.2" width="235" height="36" rx="7"/><text x="1871.8" y="3975.2">其他未列明数字技术应用业</text></g>
</g>
<g id="branch04" class="c4">
<g id="n04a"><rect x="490.3" y="1000.4" width="97.8" height="36" rx="7"/><text class="e" x="581" y="1024.4">互联网平台</text></g>
<g id="n04a1"><rect x="293.5" y="910" width="164.8" height="36" rx="7"/><text class="e" x="451.3" y="934">互联网生产服务平台</text></g>
<g id="n04a2"><rect x="293.5" y="955.2" width="164.8" height="36" rx="7"/><text class="e" x="451.3" y="979.2">互联网生活服务平台</text></g>
<g id="n04a3"><rect x="293.5" y="1000.4" width="164.8" height="36" rx="7"/><text class="e" x="451.3" y="1024.4">互联网科技创新平台</text></g>
<g id="n04a4"><rect x="293.5" y="1045.6" width="164.8" height="36" rx="7"/><text class="e" x="451.3" y="1069.6">互联网公共服务平台</text></g>
<g id="n04a5"><rect x="327" y="1090.8" width="131.3" height="36" rx="7"/><text class="e" x="451.3" y="1114.8">其他互联网平台</text></g>
<g id="n04b"><rect x="456.8" y="1156.2" width="131.3" height="36" rx="7"/><text class="e" x="581" y="1180.2">互联网批发零售</text></g>
<g id="n04b1"><rect x="317" y="1133.6" width="107.8" height="36" rx="7"/><text class="e" x="417.8" y="1157.6">互联网批发</text></g>
<g id="n04b2"><rect x="317" y="1178.8" width="107.8" height="36" rx="7"/><text class="e" x="417.8" y="1202.8">互联网零售</text></g>
<g id="n04c"><rect x="490.3" y="1266.8" width="97.8" height="36" rx="7"/><text class="e" x="581" y="1290.8">互联网金融</text></g>
<g id="n04c1"><rect x="333.8" y="1221.6" width="124.5" height="36" rx="7"/><text class="e" x="451.3" y="1245.6">网络借贷服务</text></g>
<g id="n04c2"><rect x="283.5" y="1266.8" width="174.8" height="36" rx="7"/><text class="e" x="451.3" y="1290.8">非金融机构支付服务</text></g>
<g id="n04c3"><rect x="343.8" y="1312" width="114.5" height="36" rx="7"/><text class="e" x="451.3" y="1336">金融信息服务</text></g>
<g id="n04d"><rect x="473.5" y="1535.6" width="114.5" height="36" rx="7"/><text class="e" x="581" y="1559.6">数字内容与媒体</text></g>
<g id="n04d1"><rect x="382" y="1354.8" width="59.5" height="36" rx="7"/><text class="e" x="434.5" y="1378.8">广播</text></g>
<g id="n04d2"><rect x="382" y="1400" width="59.5" height="36" rx="7"/><text class="e" x="434.5" y="1424">电视</text></g>
<g id="n04d3"><rect x="315" y="1445.2" width="126.5" height="36" rx="7"/><text class="e" x="434.5" y="1469.2">影视节目制作</text></g>
<g id="n04d4"><rect x="281.5" y="1490.4" width="160" height="36" rx="7"/><text class="e" x="434.5" y="1514.4">广播电视集成播控</text></g>
<g id="n04d5"><rect x="231.3" y="1535.6" width="210.3" height="36" rx="7"/><text class="e" x="434.5" y="1559.6">电影和广播电视节目发行</text></g>
<g id="n04d6"><rect x="348.5" y="1580.8" width="93" height="36" rx="7"/><text class="e" x="434.5" y="1604.8">电影放映</text></g>
<g id="n04d7"><rect x="348.5" y="1626" width="93" height="36" rx="7"/><text class="e" x="434.5" y="1650">录音制作</text></g>
<g id="n04d8"><rect x="315" y="1671.2" width="126.5" height="36" rx="7"/><text class="e" x="434.5" y="1695.2">数字内容出版</text></g>
<g id="n04d9"><rect x="348.5" y="1716.4" width="93" height="36" rx="7"/><text class="e" x="434.5" y="1740.4">数字广告</text></g>
<g id="n04e"><rect x="440" y="1827" width="148" height="36" rx="7"/><text class="e" x="581" y="1851">信息基础设施建设</text></g>
<g id="n04e1"><rect x="250" y="1759.2" width="158" height="36" rx="7"/><text class="e" x="401" y="1783.2">网络基础设施建设</text></g>
<g id="n04e2"><rect x="235.3" y="1804.4" width="172.8" height="36" rx="7"/><text class="e" x="401" y="1828.4">新技术基础设施建设</text></g>
<g id="n04e3"><rect x="260" y="1849.6" width="148" height="36" rx="7"/><text class="e" x="401" y="1873.6">算力基础设施建设</text></g>
<g id="n04e4"><rect x="218.5" y="1894.8" width="189.5" height="36" rx="7"/><text class="e" x="401" y="1918.8">其他信息基础设施建设</text></g>
<g id="n04f"><rect x="423.3" y="1937.6" width="164.8" height="36" rx="7"/><text class="e" x="581" y="1961.6">数据资源与产权交易</text></g>
<g id="n04g"><rect x="423.3" y="2025.6" width="164.8" height="36" rx="7"/><text class="e" x="581" y="2049.6">数据资源与产权交易</text></g>
<g id="n04g1"><rect x="260" y="1980.4" width="131.3" height="36" rx="7"/><text class="e" x="384.3" y="2004.4">供应链管理服务</text></g>
<g id="n04g2"><rect x="243.3" y="2025.6" width="148" height="36" rx="7"/><text class="e" x="384.3" y="2049.6">安全系统监控服务</text></g>
<g id="n04g3"><rect x="175" y="2070.8" width="216.3" height="36" rx="7"/><text class="e" x="384.3" y="2094.8">数字技术研究和试验发展</text></g>
</g>
<g id="branch05" class="c5">
<g id="n05a"><rect x="486" y="2240.3" width="81" height="36" rx="7"/><text class="e" x="560" y="2264.3">智慧农业</text></g>
<g id="n05a1"><rect x="322.8" y="2149.9" width="131.3" height="36" rx="7"/><text class="e" x="447" y="2173.9">数字化设施种植</text></g>
<g id="n05a2"><rect x="373" y="2195.1" width="81" height="36" rx="7"/><text class="e" x="447" y="2219.1">数字林业</text></g>
<g id="n05a3"><rect x="356.3" y="2240.3" width="97.8" height="36" rx="7"/><text class="e" x="447" y="2264.3">自动化养殖</text></g>
<g id="n05a4"><rect x="356.3" y="2285.5" width="97.8" height="36" rx="7"/><text class="e" x="447" y="2309.5">新技术育种</text></g>
<g id="n05a5"><rect x="339.5" y="2330.7" width="114.5" height="36" rx="7"/><text class="e" x="447" y="2354.7">其他智慧农业</text></g>
<g id="n05b"><rect x="486" y="2441.3" width="81" height="36" rx="7"/><text class="e" x="560" y="2465.3">智能制造</text></g>
<g id="n05b1"><rect x="239" y="2373.5" width="215" height="36" rx="7"/><text class="e" x="447" y="2397.5">数字化通用、专用设备制造</text></g>
<g id="n05b2"><rect x="289.3" y="2418.7" width="164.8" height="36" rx="7"/><text class="e" x="447" y="2442.7">数字化运输设备制造</text></g>
<g id="n05b3"><rect x="155.3" y="2463.9" width="298.8" height="36" rx="7"/><text class="e" x="447" y="2487.9">数字化电气机械、器材和仪器仪表制造</text></g>
<g id="n05b4"><rect x="327.5" y="2509.1" width="126.5" height="36" rx="7"/><text class="e" x="447" y="2533.1">其他智能制造</text></g>
<g id="n05c"><rect x="486" y="2642.3" width="81" height="36" rx="7"/><text class="e" x="560" y="2666.3">智能交通</text></g>
<g id="n05c1"><rect x="339.5" y="2551.9" width="114.5" height="36" rx="7"/><text class="e" x="447" y="2575.9">智能铁路运输</text></g>
<g id="n05c2"><rect x="339.5" y="2597.1" width="114.5" height="36" rx="7"/><text class="e" x="447" y="2621.1">智能道路运输</text></g>
<g id="n05c3"><rect x="339.5" y="2642.3" width="114.5" height="36" rx="7"/><text class="e" x="447" y="2666.3">智能水上运输</text></g>
<g id="n05c4"><rect x="339.5" y="2687.5" width="114.5" height="36" rx="7"/><text class="e" x="447" y="2711.5">智能航空运输</text></g>
<g id="n05c5"><rect x="339.5" y="2732.7" width="114.5" height="36" rx="7"/><text class="e" x="447" y="2756.7">其他智能交通</text></g>
<g id="n05d"><rect x="486" y="2798.1" width="81" height="36" rx="7"/><text class="e" x="560" y="2822.1">智慧物流</text></g>
<g id="n05d1"><rect x="353" y="2775.5" width="101" height="36" rx="7"/><text class="e" x="447" y="2799.5">智慧仓储</text></g>
<g id="n05d2"><rect x="343" y="2820.7" width="111" height="36" rx="7"/><text class="e" x="447" y="2844.7">智慧配送</text></g>
<g id="n05e"><rect x="486" y="2931.3" width="81" height="36" rx="7"/><text class="e" x="560" y="2955.3">数字金融</text></g>
<g id="n05e1"><rect x="339.5" y="2863.5" width="114.5" height="36" rx="7"/><text class="e" x="447" y="2887.5">银行金融服务</text></g>
<g id="n05e2"><rect x="306" y="2908.7" width="148" height="36" rx="7"/><text class="e" x="447" y="2932.7">数字资本市场服务</text></g>
<g id="n05e3"><rect x="356.3" y="2953.9" width="97.8" height="36" rx="7"/><text class="e" x="447" y="2977.9">互联网保险</text></g>
<g id="n05e4"><rect x="339.5" y="2999.1" width="114.5" height="36" rx="7"/><text class="e" x="447" y="3023.1">其他数字金融</text></g>
<g id="n05f"><rect x="486" y="3154.9" width="81" height="36" rx="7"/><text class="e" x="560" y="3178.9">数字商贸</text></g>
<g id="n05f1"><rect x="356.3" y="3041.9" width="97.8" height="36" rx="7"/><text class="e" x="447" y="3065.9">数字化批发</text></g>
<g id="n05f2"><rect x="356.3" y="3087.1" width="97.8" height="36" rx="7"/><text class="e" x="447" y="3111.1">数字化零售</text></g>
<g id="n05f3"><rect x="356.3" y="3132.3" width="97.8" height="36" rx="7"/><text class="e" x="447" y="3156.3">数字化住宿</text></g>
<g id="n05f4"><rect x="356.3" y="3177.5" width="97.8" height="36" rx="7"/><text class="e" x="447" y="3201.5">数字化餐饮</text></g>
<g id="n05f5"><rect x="356.3" y="3222.7" width="97.8" height="36" rx="7"/><text class="e" x="447" y="3246.7">数字化租赁</text></g>
<g id="n05f6"><rect x="322.8" y="3267.9" width="131.3" height="36" rx="7"/><text class="e" x="447" y="3291.9">数字化商务服务</text></g>
<g id="n05g"><rect x="486" y="3355.9" width="81" height="36" rx="7"/><text class="e" x="560" y="3379.9">数字社会</text></g>
<g id="n05g1"><rect x="373" y="3310.7" width="81" height="36" rx="7"/><text class="e" x="447" y="3334.7">智慧教育</text></g>
<g id="n05g2"><rect x="373" y="3355.9" width="81" height="36" rx="7"/><text class="e" x="447" y="3379.9">智慧医疗</text></g>
<g id="n05g3"><rect x="322.8" y="3401.1" width="131.3" height="36" rx="7"/><text class="e" x="447" y="3425.1">数字化社会工作</text></g>
<g id="n05h"><rect x="486" y="3534.3" width="81" height="36" rx="7"/><text class="e" x="560" y="3558.3">数字政府</text></g>
<g id="n05h1"><rect x="304.8" y="3443.9" width="149.3" height="36" rx="7"/><text class="e" x="447" y="3467.9">行政办公自动化</text></g>
<g id="n05h2"><rect x="319.5" y="3489.1" width="134.5" height="36" rx="7"/><text class="e" x="447" y="3513.1">网上税务办理</text></g>
<g id="n05h3"><rect x="302.8" y="3534.3" width="151.3" height="36" rx="7"/><text class="e" x="447" y="3558.3">互联网海关服务</text></g>
<g id="n05h4"><rect x="286" y="3579.5" width="168" height="36" rx="7"/><text class="e" x="447" y="3603.5">网上社会保障服务</text></g>
<g id="n05h5"><rect x="319.5" y="3624.7" width="134.5" height="36" rx="7"/><text class="e" x="447" y="3648.7">其他数字政府</text></g>
<g id="n05i"><rect x="385.5" y="3803.1" width="181.5" height="36" rx="7"/><text class="e" x="560" y="3827.1">其他数字化效率提升业</text></g>
<g id="n05i1"><rect x="261.5" y="3667.5" width="92" height="36" rx="7"/><text class="e" x="346.5" y="3691.5">数字采矿</text></g>
<g id="n05i2"><rect x="28" y="3712.7" width="325.5" height="36" rx="7"/><text class="e" x="346.5" y="3736.7">智能化电力、热力、燃气及水生产和供应</text></g>
<g id="n05i3"><rect x="239" y="3757.9" width="114.5" height="36" rx="7"/><text class="e" x="346.5" y="3781.9">数字化建筑业</text></g>
<g id="n05i4"><rect x="222.3" y="3803.1" width="131.3" height="36" rx="7"/><text class="e" x="346.5" y="3827.1">互联网房地产业</text></g>
<g id="n05i5"><rect x="172" y="3848.3" width="181.5" height="36" rx="7"/><text class="e" x="346.5" y="3872.3">专业技术服务业数字化</text></g>
<g id="n05i6"><rect x="68.8" y="3893.5" width="284.8" height="36" rx="7"/><text class="e" x="346.5" y="3917.5">数字化水利、环境和市政设施管理</text></g>
<g id="n05i7"><rect x="188.8" y="3938.7" width="164.8" height="36" rx="7"/><text class="e" x="346.5" y="3962.7">互联网居民生活服务</text></g>
<g id="n05i8"><rect x="205.5" y="3983.9" width="148" height="36" rx="7"/><text class="e" x="346.5" y="4007.9">互联网文体娱乐业</text></g>
</g>
<text x="1074" y="4071" text-anchor="middle" style="font-family:'Noto Sans',sans-serif;font-size:22px;font-weight:400;fill:#ADADAD">Presented with XMind</text>
</svg>
